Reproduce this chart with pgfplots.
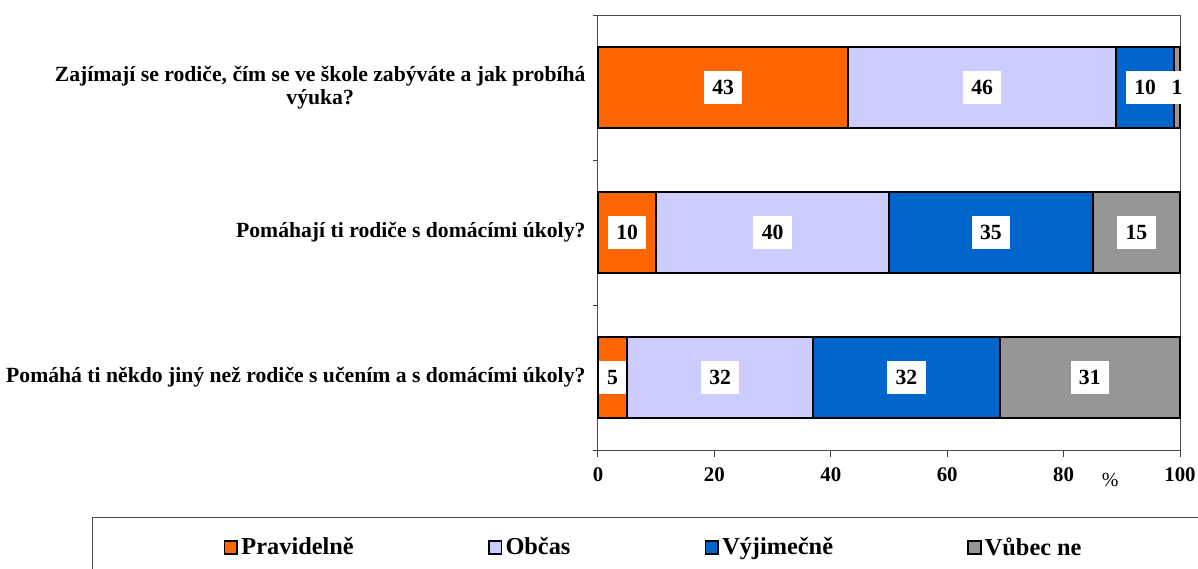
\documentclass[border=0pt]{standalone}
\usepackage{fontspec}
\setmainfont{Liberation Serif}
\usepackage{pgfplots}
\pgfplotsset{compat=1.18}
\definecolor{cPrav}{HTML}{FF6600}
\definecolor{cObc}{HTML}{CCCCFF}
\definecolor{cVyj}{HTML}{0066CC}
\definecolor{cVub}{HTML}{969696}
\begin{document}
\begin{tikzpicture}
\begin{axis}[
  scale only axis, width=349.2pt, height=261pt,
  xbar stacked, bar width=0.56,
  xmin=0, xmax=100, ymin=-0.5, ymax=2.5,
  xtick={0,20,...,100},
  ytick={0,1,2},
  yticklabels={{Pomáhá ti někdo jiný než rodiče s učením a s domácími úkoly?},{Pomáhají ti rodiče s domácími úkoly?},{Zajímají se rodiče, čím se ve škole zabýváte a jak probíhá\\výuka?}},
  minor ytick={-0.5,0.5,1.5,2.5},
  xtick pos=bottom, ytick pos=left,
  tick align=outside,
  major tick length=4pt, minor tick length=3pt,
  major y tick style={draw=none},
  tick style={black!75, line width=0.6pt},
  axis line style={black!70, line width=0.6pt},
  /pgf/number format/assume math mode=true,
  xticklabel style={font=\bfseries\fontsize{12.5}{14}\selectfont, yshift=-3pt},
  yticklabel style={font=\bfseries\fontsize{13}{13.5}\selectfont, align=center},
  legend style={at={(axis description cs:-0.8694,-0.154)}, anchor=north west,
    legend columns=4, draw=black!70, line width=0.6pt,
    inner xsep=78.8pt, inner ysep=10pt,
    font=\bfseries\fontsize{14.6}{17}\selectfont,
    /tikz/every even column/.append style={column sep=78.5pt}},
  legend image code/.code={\draw[#1, line width=1pt] (0pt,-3.8pt) rectangle (7.6pt,3.8pt);},
  clip=false,
]
\addplot[fill=cPrav, draw=black, line width=1.2pt] coordinates {(5,0) (10,1) (43,2)};
\addplot[fill=cObc, draw=black, line width=1.2pt] coordinates {(32,0) (40,1) (46,2)};
\addplot[fill=cVyj, draw=black, line width=1.2pt] coordinates {(32,0) (35,1) (10,2)};
\addplot[fill=cVub, draw=black, line width=1.2pt] coordinates {(31,0) (15,1) (1,2)};
\legend{Pravidelně, Občas, Výjimečně, Vůbec ne}
\node[font=\fontsize{12}{14}\selectfont, yshift=-18pt] at (rel axis cs:0.88,0) {\%};
\end{axis}
\begin{axis}[
  scale only axis, width=349.2pt, height=261pt,
  xmin=0, xmax=100, ymin=-0.5, ymax=2.5, hide axis, clip=false,
]
\addplot[only marks, mark=none, draw=none, nodes near coords, point meta=explicit symbolic,
  nodes near coords align={center},
  every node near coord/.append style={anchor=center, fill=white, text=black,
    font=\bfseries\fontsize{13}{14}\selectfont, inner xsep=5pt, inner ysep=0pt,
    minimum height=20pt, text height=8.5pt, text depth=0pt}]
  table[meta=label] {
x y label
21.5 2 43
66 2 46
94 2 10
99.5 2 1
5 1 10
30 1 40
67.5 1 35
92.5 1 15
2.5 0 5
21 0 32
53 0 32
84.5 0 31
};
\end{axis}
\pgfresetboundingbox
\path[use as bounding box] (-358.8pt,270pt) rectangle (360pt,-70.8pt);
\end{tikzpicture}
\end{document}
